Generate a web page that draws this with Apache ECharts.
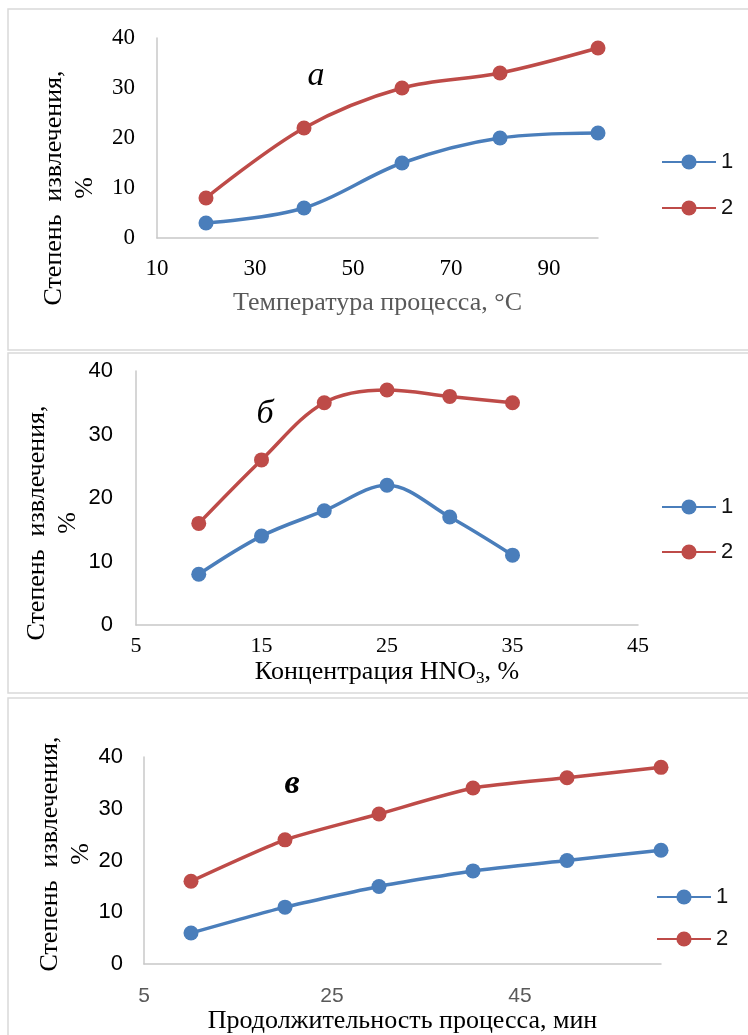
<!DOCTYPE html>
<html>
<head>
<meta charset="utf-8">
<script src="https://cdn.jsdelivr.net/npm/echarts@6/dist/echarts.min.js"></script>
<style>
  html, body { margin: 0; padding: 0; background: #fff; }
  #chart { width: 748px; height: 1035px; }
</style>
</head>
<body>
<div id="chart"></div>
<script>
// panel a: temperature
const tempX = [20, 40, 60, 80, 100]
const tempS1 = [3, 6, 15, 20, 21]
const tempS2 = [8, 22, 30, 33, 38]
// panel b: HNO3 concentration
const concX = [10, 15, 20, 25, 30, 35]
const concS1 = [8, 14, 18, 22, 17, 11]
const concS2 = [16, 26, 35, 37, 36, 35]
// panel c: duration
const timeX = [10, 20, 30, 40, 50, 60]
const timeS1 = [6, 11, 15, 18, 20, 22]
const timeS2 = [16, 24, 29, 34, 36, 38]
// axis ranges [min, max, interval]
const tempAxis = [10, 100, 20]
const concAxis = [5, 45, 10]
const timeAxis = [5, 60, 20]
const yAxisRange = [0, 40, 10]
const seriesNames = ['1', '2']
const yTitle = 'Степень  извлечения,\n%'

const SERIF = '"Liberation Serif", "Times New Roman", serif'
const SANS = '"Liberation Sans", Arial, sans-serif'
const BLUE = '#4a7ebb'
const RED = '#be4b48'
const AXIS_LINE = { show: true, lineStyle: { color: '#c8c8c8', width: 1.5 } }

function pairs(xs, ys) {
  return xs.map((x, i) => [x, ys[i]])
}

function xAxisOf(idx, range, font, size, color, name, nameGap, margin) {
  return {
    gridIndex: idx,
    type: 'value',
    min: range[0],
    max: range[1],
    interval: range[2],
    axisLine: AXIS_LINE,
    axisTick: { show: false },
    splitLine: { show: false },
    axisLabel: { showMaxLabel: (range[1] - range[0]) % range[2] === 0, margin: margin, fontFamily: font, fontSize: size, color: color },
    name: name,
    nameLocation: 'middle',
    nameGap: nameGap,
    nameTextStyle: {
      fontFamily: SERIF,
      fontSize: 26,
      color: idx === 0 ? '#595959' : '#000',
      rich: {
        sub: { fontFamily: SERIF, fontSize: 17, color: '#000', verticalAlign: 'bottom', padding: [12, 0, 0, 0] }
      }
    }
  }
}

function yAxisOf(idx, font, size, margin) {
  return {
    gridIndex: idx,
    type: 'value',
    min: yAxisRange[0],
    max: yAxisRange[1],
    interval: yAxisRange[2],
    axisLine: AXIS_LINE,
    axisTick: { show: false },
    splitLine: { show: false },
    axisLabel: { margin: margin, fontFamily: font, fontSize: size, color: '#000' }
  }
}

function lineSeries(idx, name, data, color, smooth) {
  return {
    name: name,
    type: 'line',
    xAxisIndex: idx,
    yAxisIndex: idx,
    data: data,
    smooth: smooth,
    symbol: 'circle',
    symbolSize: 15,
    lineStyle: { color: color, width: 3.5 },
    itemStyle: { color: color },
    emphasis: { disabled: true }
  }
}

function legendOf(left, top, gap) {
  return {
    orient: 'vertical',
    left: left,
    top: top,
    itemGap: gap,
    itemWidth: 54,
    itemHeight: 19,
    data: seriesNames,
    selectedMode: false,
    textStyle: { fontFamily: SANS, fontSize: 22, color: '#111' }
  }
}

function panelBox(y, h) {
  return {
    type: 'rect',
    shape: { x: 8, y: y, width: 760, height: h },
    style: { fill: 'none', stroke: '#d9d9d9', lineWidth: 1.5 },
    silent: true
  }
}

function yTitleText(x, y) {
  return {
    type: 'text',
    x: x,
    y: y,
    rotation: Math.PI / 2,
    style: {
      text: yTitle,
      fontFamily: SERIF,
      fontSize: 26,
      lineHeight: 31,
      fill: '#000',
      align: 'center',
      verticalAlign: 'middle'
    },
    silent: true
  }
}

function letterText(x, y, txt, weight) {
  return {
    type: 'text',
    x: x,
    y: y,
    style: {
      text: txt,
      fontFamily: SERIF,
      fontSize: 34,
      fontStyle: 'italic',
      fontWeight: weight,
      fill: '#000',
      align: 'center',
      verticalAlign: 'middle'
    },
    silent: true
  }
}

const chart = echarts.init(document.getElementById('chart'))

const option = {
  backgroundColor: '#fff',
  animation: false,
  grid: [
    { left: 157, top: 38, width: 441, height: 200 },
    { left: 136, top: 371, width: 502, height: 254 },
    { left: 144, top: 757, width: 517, height: 210 }
  ],
  xAxis: [
    xAxisOf(0, tempAxis, SERIF, 23, '#000', 'Температура процесса, °C', 52, 19),
    xAxisOf(1, concAxis, SERIF, 22, '#000', 'Концентрация HNO{sub|3}, %', 33, 10),
    xAxisOf(2, timeAxis, SANS, 21, '#595959', 'Продолжительность процесса, мин', 40, 22)
  ],
  yAxis: [
    yAxisOf(0, SERIF, 23, 22),
    yAxisOf(1, SANS, 22, 23),
    yAxisOf(2, SANS, 22, 21)
  ],
  legend: [
    legendOf(656, 146, 24),
    legendOf(656, 491, 23),
    legendOf(651, 881, 20)
  ],
  graphic: [
    panelBox(9, 341),
    panelBox(353, 340),
    panelBox(698, 360),
    yTitleText(70, 188),
    yTitleText(53, 523),
    yTitleText(66, 854),
    letterText(316, 76, 'а', 'normal'),
    letterText(265, 414, 'б', 'normal'),
    letterText(292, 784, 'в', 'bold')
  ],
  series: [
    lineSeries(0, seriesNames[0], pairs(tempX, tempS1), BLUE, 0.35),
    lineSeries(0, seriesNames[1], pairs(tempX, tempS2), RED, 0.35),
    lineSeries(1, seriesNames[0], pairs(concX, concS1), BLUE, 0.35),
    lineSeries(1, seriesNames[1], pairs(concX, concS2), RED, 0.35),
    lineSeries(2, seriesNames[0], pairs(timeX, timeS1), BLUE, 0.2),
    lineSeries(2, seriesNames[1], pairs(timeX, timeS2), RED, 0.2)
  ]
}

chart.setOption(option)
</script>
</body>
</html>
